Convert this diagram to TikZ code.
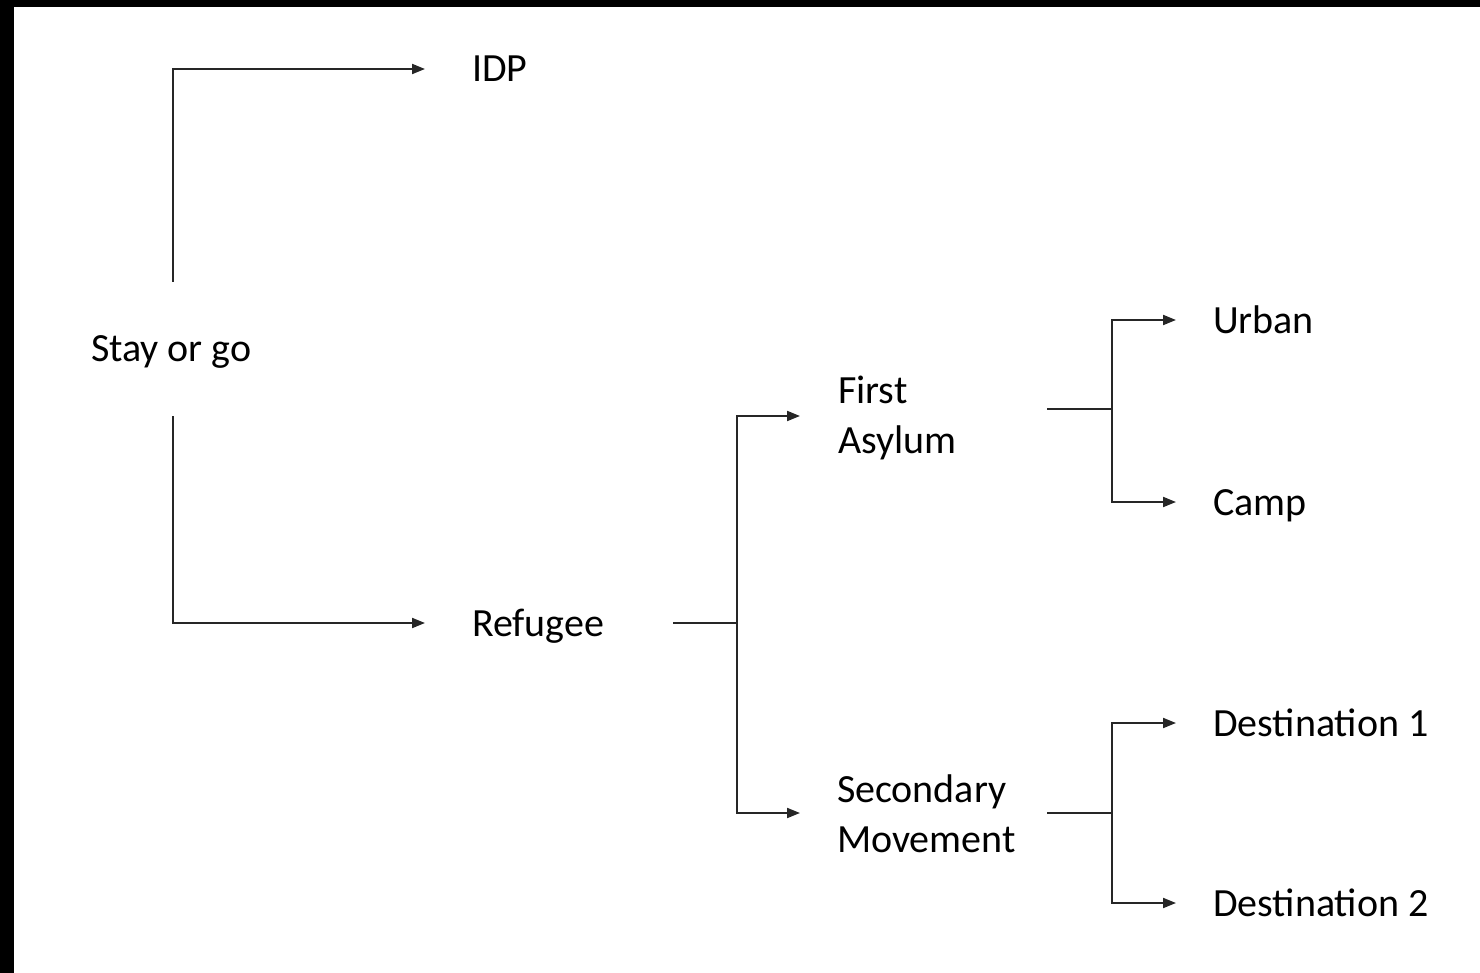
\documentclass[tikz,border=0pt]{standalone}
\usepackage{fontspec}
\setmainfont{Carlito}
\usetikzlibrary{arrows.meta}
\begin{document}
\begin{tikzpicture}[x=1pt,y=-1pt,
  lbl/.style={inner sep=0pt, outer sep=0pt, anchor=west, text height=26pt, text depth=0pt, font=\fontsize{40}{50}\selectfont},
  lbl2/.style={inner sep=0pt, outer sep=0pt, anchor=west, align=left, font=\fontsize{40}{50}\selectfont},
  conn/.style={line width=2pt, draw=black!85},
  arr/.style={conn, -{Triangle[length=13pt,width=10pt]}}]
\useasboundingbox (0,0) rectangle (1480,973);
\fill[black] (0,0) rectangle (1480,7);
\fill[black] (0,0) rectangle (14,973);
% nodes
\node[lbl] (sog) at (91,349) {Stay or go};
\node[lbl] (idp) at (472,69) {IDP};
\node[lbl] (ref) at (472,623) {Refugee};
\node[lbl2] (fa) at (838,418) {First\\Asylum};
\node[lbl2] (sm) at (837,814) {Secondary\\Movement};
\node[lbl] (urb) at (1213,321) {Urban};
\node[lbl] (camp) at (1213,502) {Camp};
\node[lbl] (d1) at (1213,723) {Destination 1};
\node[lbl] (d2) at (1213,903) {Destination 2};
% helper coordinates
\coordinate (sogN) at (173,282);
\coordinate (sogS) at (173,416);
\coordinate (refOut) at (673,623);
\coordinate (refJ) at (737,623);
\coordinate (faOut) at (1047,409);
\coordinate (faJ) at (1112,409);
\coordinate (smOut) at (1047,813);
\coordinate (smJ) at (1112,813);
% connectors
\draw[arr] (sogN) |- ([xshift=-47pt]idp.west);
\draw[arr] (sogS) |- ([xshift=-47pt]ref.west);
\draw[conn] (refOut) -- (refJ);
\draw[arr] (refJ) |- ([xshift=-38pt,yshift=2pt]fa.west);
\draw[arr] (refJ) |- ([xshift=-37pt,yshift=1pt]sm.west);
\draw[conn] (faOut) -- (faJ);
\draw[arr] (faJ) |- ([xshift=-37pt,yshift=1pt]urb.west);
\draw[arr] (faJ) |- ([xshift=-37pt]camp.west);
\draw[conn] (smOut) -- (smJ);
\draw[arr] (smJ) |- ([xshift=-37pt]d1.west);
\draw[arr] (smJ) |- ([xshift=-37pt]d2.west);
\end{tikzpicture}
\end{document}
